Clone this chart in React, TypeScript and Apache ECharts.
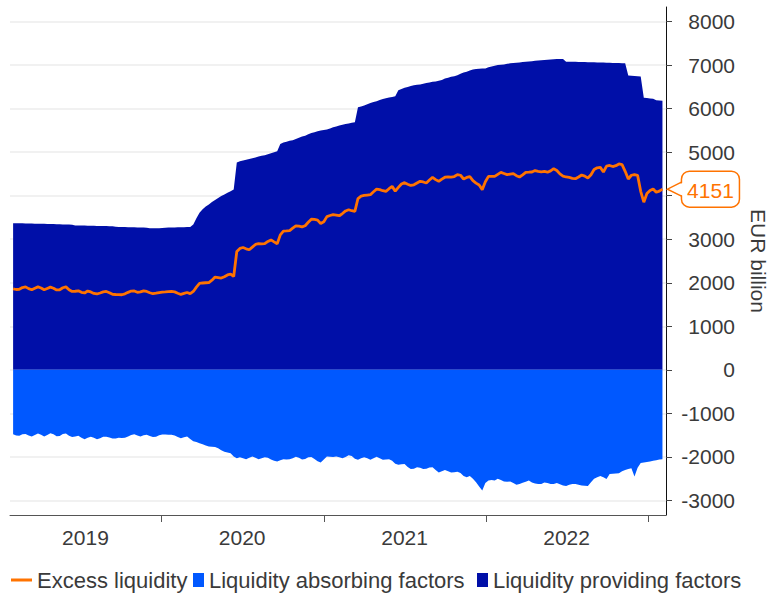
import { useEffect, useRef } from "react";
import * as echarts from "echarts";

// Weekly observations starting on this date (one value per week)
const WEEK_START = "2019-02-01";

const providing = [
  3370, 3368, 3366, 3365, 3363, 3362, 3360, 3358, 3357, 3356,
  3355, 3352, 3350, 3348, 3345, 3342, 3340, 3338, 3336, 3335,
  3318, 3316, 3315, 3314, 3312, 3310, 3308, 3306, 3305, 3304,
  3302, 3300, 3298, 3285, 3283, 3282, 3280, 3278, 3276, 3275,
  3272, 3270, 3268, 3266, 3255, 3254, 3252, 3255, 3260, 3265,
  3268, 3270, 3272, 3275, 3276, 3278, 3279, 3280, 3340, 3480,
  3610, 3690, 3750, 3800, 3855, 3900, 3950, 3995, 4030, 4070,
  4105, 4140, 4760, 4790, 4810, 4825, 4845, 4860, 4880, 4900,
  4915, 4930, 4950, 4975, 5000, 5020, 5190, 5220, 5240, 5260,
  5275, 5300, 5330, 5360, 5380, 5410, 5440, 5460, 5480, 5500,
  5510, 5520, 5545, 5570, 5590, 5610, 5630, 5645, 5660, 5675,
  5690, 6030, 6050, 6075, 6100, 6130, 6150, 6170, 6200, 6220,
  6240, 6255, 6270, 6285, 6420, 6450, 6480, 6500, 6520, 6535,
  6550, 6555, 6570, 6590, 6600, 6615, 6625, 6640, 6660, 6690,
  6710, 6730, 6745, 6770, 6800, 6830, 6850, 6875, 6900, 6910,
  6915, 6920, 6925, 6950, 6970, 6985, 7000, 7010, 7015, 7030,
  7040, 7050, 7055, 7060, 7070, 7080, 7085, 7090, 7100, 7105,
  7110, 7120, 7125, 7130, 7135, 7138, 7140, 7142, 7080, 7078,
  7075, 7075, 7072, 7070, 7070, 7068, 7065, 7065, 7062, 7060,
  7058, 7055, 7052, 7050, 7050, 7048, 7045, 7045, 6760, 6755,
  6750, 6745, 6740, 6250, 6245, 6235, 6225, 6190, 6185, 6180,
];

const absorbing = [
  -1479, -1510, -1515, -1480, -1475, -1510, -1530, -1495, -1465, -1490,
  -1530, -1495, -1458, -1480, -1525, -1520, -1475, -1460, -1515, -1545,
  -1530, -1517, -1560, -1592, -1560, -1535, -1560, -1592, -1570, -1540,
  -1535, -1555, -1578, -1575, -1560, -1565, -1563, -1530, -1495, -1479,
  -1510, -1530, -1505, -1494, -1520, -1545, -1540, -1505, -1487, -1488,
  -1492, -1494, -1510, -1545, -1570, -1550, -1533, -1590, -1640, -1660,
  -1685, -1710, -1740, -1760, -1765, -1775, -1800, -1850, -1880, -1900,
  -1916, -1990, -2030, -2010, -2030, -2054, -2020, -1993, -2020, -2054,
  -2030, -2010, -2020, -2060, -2090, -2107, -2075, -2054, -2060, -2054,
  -2030, -1995, -2020, -2060, -2050, -2010, -2000, -2050, -2100, -2130,
  -2060, -1993, -1995, -2000, -1993, -2010, -2030, -2000, -1960, -1980,
  -2040, -2065, -2030, -2008, -2030, -2065, -2030, -1995, -2030, -2065,
  -2060, -2055, -2090, -2160, -2180, -2170, -2165, -2230, -2280, -2270,
  -2240, -2250, -2280, -2275, -2245, -2240, -2300, -2360, -2330, -2300,
  -2330, -2360, -2355, -2340, -2370, -2440, -2465, -2440, -2500, -2580,
  -2680, -2775, -2600, -2540, -2530, -2545, -2500, -2530, -2568, -2570,
  -2568, -2600, -2640, -2625, -2595, -2570, -2545, -2590, -2610, -2620,
  -2620, -2590, -2600, -2625, -2620, -2600, -2630, -2660, -2667, -2640,
  -2625, -2621, -2640, -2660, -2665, -2667, -2580, -2500, -2470, -2437,
  -2470, -2510, -2391, -2385, -2380, -2375, -2330, -2299, -2280, -2261,
  -2452, -2250, -2140, -2130, -2115, -2105, -2090, -2075, -2060, -2054,
];

const excess = [
  1862, 1845, 1850, 1890, 1905, 1865, 1840, 1875, 1905, 1880,
  1840, 1870, 1900, 1875, 1835, 1840, 1885, 1905, 1840, 1800,
  1805, 1816, 1780, 1765, 1810, 1790, 1755, 1742, 1765, 1790,
  1800, 1770, 1735, 1730, 1728, 1725, 1745, 1780, 1810, 1812,
  1780, 1790, 1815, 1800, 1770, 1748, 1760, 1775, 1786, 1790,
  1795, 1800, 1790, 1760, 1732, 1755, 1777, 1750, 1800, 1900,
  1985, 1995, 2000, 2005, 2060, 2130, 2120, 2108, 2140, 2180,
  2200, 2145, 2720, 2790, 2810, 2780, 2759, 2820, 2880, 2897,
  2895, 2897, 2950, 2985, 2940, 2897, 3100, 3185, 3190, 3200,
  3255, 3305, 3300, 3285, 3310, 3390, 3460, 3455, 3440, 3360,
  3400, 3520, 3545, 3563, 3555, 3540, 3590, 3650, 3678, 3655,
  3640, 3935, 3990, 4005, 4015, 4023, 4090, 4150, 4140, 4115,
  4100, 4160, 4214, 4105, 4190, 4270, 4300, 4265, 4235, 4250,
  4290, 4330, 4315, 4292, 4360, 4420, 4370, 4330, 4380, 4425,
  4430, 4429, 4440, 4485, 4470, 4384, 4420, 4440, 4345, 4290,
  4245, 4140, 4320, 4444, 4446, 4444, 4490, 4536, 4510, 4483,
  4495, 4506, 4460, 4430, 4480, 4536, 4540, 4545, 4578, 4560,
  4550, 4560, 4540, 4570, 4620, 4580, 4500, 4450, 4430, 4420,
  4400, 4390, 4430, 4475, 4450, 4405, 4480, 4600, 4640, 4650,
  4545, 4680, 4695, 4670, 4690, 4730, 4715, 4560, 4384, 4470,
  4485, 4467, 4100, 3850, 4050, 4120, 4155, 4080, 4105, 4151,
];

const seriesNames = ["Excess liquidity", "Liquidity absorbing factors", "Liquidity providing factors"];
const yTicks = [-3000, -2000, -1000, 0, 1000, 2000, 3000, 4000, 5000, 6000, 7000, 8000];
// The 4000 label sits under the end-value callout in the reference, so it is not shown
const yLabels = [-3000, -2000, -1000, 0, 1000, 2000, 3000, 5000, 6000, 7000, 8000];
const yearTickDates = ["2020-01-01", "2021-01-01", "2022-01-01", "2023-01-01"];
const yearLabelDates = ["2019-07-14", "2020-07-01", "2021-07-02", "2022-07-02"];
const X_MIN = "2019-01-25";
const X_MAX = "2023-02-11";

const DARK = "#000fa8";
const LIGHT = "#0058ff";
const ORANGE = "#ff7300";
const TEXT = "#3a3a3a";
const FONT = "'Liberation Sans', Arial, sans-serif";

export default function App() {
  const ref = useRef<HTMLDivElement>(null);

  useEffect(() => {
    if (!ref.current) return;
    const chart = echarts.init(ref.current, null, { renderer: "svg" });
    const t0 = Date.parse(WEEK_START);
    const dates = providing.map((_, i) => t0 + i * 7 * 86400000);

    const legendText = { fontSize: 22, color: TEXT, fontFamily: FONT };
    chart.setOption({
      animation: false,
      grid: {
        left: 10,
        right: 103,
        top: 7,
        bottom: 78,
        containLabel: false,
        outerBoundsMode: "none",
      },
      legend: [
        {
          left: 11,
          top: 569,
          padding: 0,
          itemWidth: 21,
          itemHeight: 3,
          icon: "rect",
          textStyle: legendText,
          data: [seriesNames[0]],
        },
        {
          left: 193,
          top: 569,
          padding: 0,
          itemWidth: 11,
          itemHeight: 14,
          icon: "rect",
          textStyle: legendText,
          data: [seriesNames[1]],
        },
        {
          left: 477,
          top: 569,
          padding: 0,
          itemWidth: 11,
          itemHeight: 14,
          icon: "rect",
          textStyle: legendText,
          data: [seriesNames[2]],
        },
      ],
      xAxis: {
        type: "value",
        min: Date.parse(X_MIN),
        max: Date.parse(X_MAX),
        axisLine: { show: true, onZero: false, lineStyle: { color: "#555", width: 1 } },
        axisTick: {
          show: true,
          customValues: yearTickDates.map((d) => Date.parse(d)),
          length: 7,
          lineStyle: { color: "#555", width: 1 },
        },
        axisLabel: {
          customValues: yearLabelDates.map((d) => Date.parse(d)),
          formatter: (v: number) => String(new Date(v).getUTCFullYear()),
          color: TEXT,
          fontSize: 21,
          fontFamily: FONT,
          margin: 12,
        },
        splitLine: { show: false },
      },
      yAxis: {
        type: "value",
        position: "right",
        min: -3335,
        max: 8335,
        axisLine: { show: true, onZero: false, lineStyle: { color: "#111", width: 1 } },
        axisTick: { show: true, customValues: yTicks, length: 6, lineStyle: { color: "#444" } },
        axisLabel: {
          customValues: yLabels,
          formatter: (v: number) => String(v),
          align: "right",
          margin: 69,
          color: TEXT,
          fontSize: 21,
          fontFamily: FONT,
        },
        splitLine: { show: true, lineStyle: { color: "#ececec", width: 1.5 } },
        name: "EUR billion",
        nameLocation: "middle",
        nameRotate: -90,
        nameGap: 84,
        nameTextStyle: { fontSize: 21, lineHeight: 16, color: TEXT, fontFamily: FONT },
      },
      series: [
        {
          name: seriesNames[2],
          type: "line",
          data: dates.map((d, i) => [d, providing[i]]),
          symbol: "none",
          showSymbol: false,
          lineStyle: { width: 0, color: DARK },
          itemStyle: { color: DARK },
          areaStyle: { color: DARK, opacity: 1 },
          z: 2,
        },
        {
          name: seriesNames[1],
          type: "line",
          data: dates.map((d, i) => [d, absorbing[i]]),
          symbol: "none",
          showSymbol: false,
          lineStyle: { width: 0, color: LIGHT },
          itemStyle: { color: LIGHT },
          areaStyle: { color: LIGHT, opacity: 1 },
          z: 3,
        },
        {
          name: seriesNames[0],
          type: "line",
          data: dates.map((d, i) => [d, excess[i]]),
          symbol: "none",
          showSymbol: false,
          lineStyle: { width: 2.8, color: ORANGE },
          itemStyle: { color: ORANGE },
          z: 4,
        },
      ],
    });

    const last = excess.length - 1;
    const p = chart.convertToPixel({ gridIndex: 0 }, [dates[last], excess[last]]) as number[];
    const px = p[0];
    const py = p[1];
    const tip = px + 5;
    const bx = px + 19;
    const bw = 58;
    const bh = 36;
    chart.setOption({
      graphic: [
        {
          type: "rect",
          z: 100,
          shape: { x: bx, y: py - bh / 2, width: bw, height: bh, r: 8 },
          style: { fill: "#fff", stroke: ORANGE, lineWidth: 1.5 },
        },
        {
          type: "polygon",
          z: 101,
          shape: { points: [[tip + 1, py], [bx + 1.5, py - 6.5], [bx + 1.5, py + 6.5]] },
          style: { fill: "#fff", stroke: "none" },
        },
        {
          type: "polyline",
          z: 102,
          shape: { points: [[bx, py - 7], [tip, py], [bx, py + 7]] },
          style: { fill: "none", stroke: ORANGE, lineWidth: 1.5 },
        },
        {
          type: "text",
          z: 103,
          x: bx + bw / 2,
          y: py + 1,
          style: {
            text: String(excess[last]),
            fill: ORANGE,
            fontSize: 21,
            fontFamily: FONT,
            align: "center",
            verticalAlign: "middle",
          },
        },
      ],
    });

    return () => chart.dispose();
  }, []);

  return (
    <div
      ref={ref}
      style={{ position: "fixed", left: 0, top: 0, width: 769, height: 593, background: "#fff" }}
    />
  );
}
